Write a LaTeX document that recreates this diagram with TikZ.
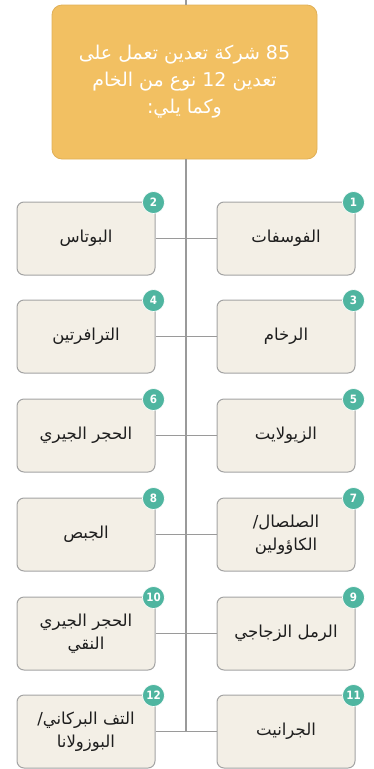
\documentclass[tikz,border=0pt]{standalone}
\usepackage{fontspec}
\TeXXeTstate=1
\newfontfamily\arabicfont[Script=Arabic]{DejaVu Sans}
\newfontfamily\badgefont{DejaVu Sans Condensed}
\newcommand{\artxt}[1]{\beginR #1\endR}
\definecolor{topfill}{HTML}{F2C062}
\definecolor{topline}{HTML}{E0B058}
\definecolor{boxfill}{HTML}{F3EFE6}
\definecolor{boxline}{HTML}{A3A3A3}
\definecolor{teal}{HTML}{4FB5A0}
\definecolor{conn}{HTML}{9A9A9A}
\definecolor{labeltxt}{HTML}{1E1E1E}
\begin{document}
\begin{tikzpicture}[x=1pt,y=-1pt,
  topbox/.style={draw=topline, line width=0.8pt, fill=topfill, rounded corners=10pt, minimum width=265pt, minimum height=154pt, text=white, font=\arabicfont\fontsize{19}{27}\selectfont, align=center, inner sep=0pt},
  itembox/.style={draw=boxline, line width=1pt, fill=boxfill, rounded corners=7pt, minimum width=138pt, minimum height=73pt, text=labeltxt, font=\arabicfont\fontsize{16.5}{23}\selectfont, align=center, inner sep=0pt},
  badge/.style={circle, fill=teal, draw=white, line width=0.6pt, minimum size=22pt, inner sep=0pt, text=white, font=\badgefont\bfseries\fontsize{11.5}{11.5}\selectfont},
  connector/.style={draw=conn, line width=1.5pt}]
\useasboundingbox (0,0) rectangle (373,769);
\coordinate (top) at (186,0);
\coordinate (bot) at (186,731.5);

\node[topbox] (T) at (184.5,82) {\artxt{85 شركة تعدين تعمل على}\\\artxt{تعدين 12 نوع من الخام}\\\artxt{وكما يلي:}};

\draw[connector] (top) -- (top|-T.north);
\draw[connector] (top|-T.south) -- (bot);

\node[itembox] (R1) at (286,238.5) {\artxt{الفوسفات}};
\node[itembox] (L1) at (86,238.5) {\artxt{البوتاس}};
\node[itembox] (R2) at (286,336.5) {\artxt{الرخام}};
\node[itembox] (L2) at (86,336.5) {\artxt{الترافرتين}};
\node[itembox] (R3) at (286,435.5) {\artxt{الزيولايت}};
\node[itembox] (L3) at (86,435.5) {\artxt{الحجر الجيري}};
\node[itembox] (R4) at (286,534.5) {\artxt{الصلصال/}\\\artxt{الكاؤولين}};
\node[itembox] (L4) at (86,534.5) {\artxt{الجبص}};
\node[itembox] (R5) at (286,633.5) {\artxt{الرمل الزجاجي}};
\node[itembox] (L5) at (86,633.5) {\artxt{الحجر الجيري}\\\artxt{النقي}};
\node[itembox] (R6) at (286,731.5) {\artxt{الجرانيت}};
\node[itembox] (L6) at (86,731.5) {\artxt{التف البركاني/}\\\artxt{البوزولانا}};

\foreach \i in {1,...,6}{
  \draw[connector] (L\i.east) -- (R\i.west);
}

\node[badge] (B1) at ([xshift=-2pt,yshift=-1pt]R1.north east) {1};
\node[badge] (B2) at ([xshift=-2pt,yshift=-1pt]L1.north east) {2};
\node[badge] (B3) at ([xshift=-2pt,yshift=-1pt]R2.north east) {3};
\node[badge] (B4) at ([xshift=-2pt,yshift=-1pt]L2.north east) {4};
\node[badge] (B5) at ([xshift=-2pt,yshift=-1pt]R3.north east) {5};
\node[badge] (B6) at ([xshift=-2pt,yshift=-1pt]L3.north east) {6};
\node[badge] (B7) at ([xshift=-2pt,yshift=-1pt]R4.north east) {7};
\node[badge] (B8) at ([xshift=-2pt,yshift=-1pt]L4.north east) {8};
\node[badge] (B9) at ([xshift=-2pt,yshift=-1pt]R5.north east) {9};
\node[badge] (B10) at ([xshift=-2pt,yshift=-1pt]L5.north east) {10};
\node[badge] (B11) at ([xshift=-2pt,yshift=-1pt]R6.north east) {11};
\node[badge] (B12) at ([xshift=-2pt,yshift=-1pt]L6.north east) {12};
\end{tikzpicture}
\end{document}
